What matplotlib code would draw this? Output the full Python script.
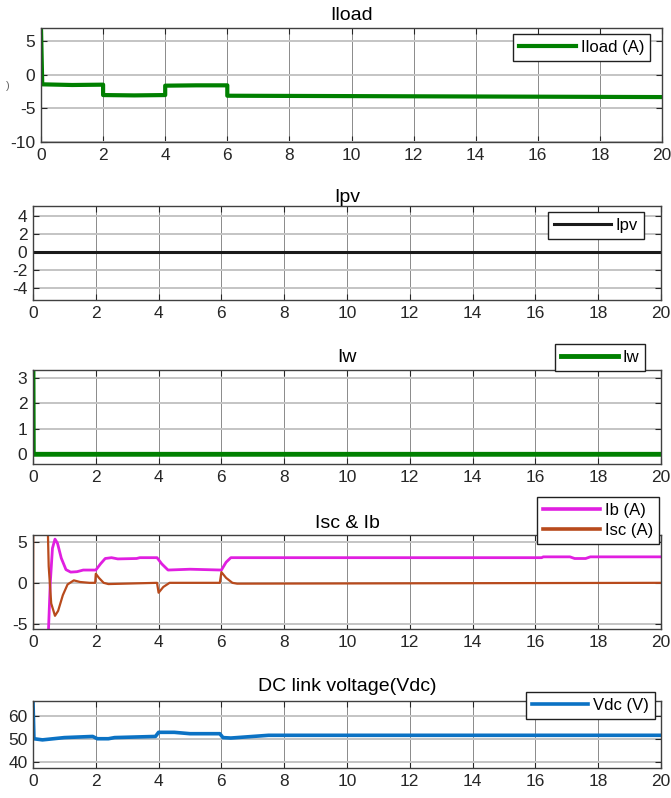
import matplotlib
matplotlib.use("Agg")
import matplotlib.pyplot as plt
from matplotlib import font_manager

# ---------------- data ----------------
xticks = list(range(0, 21, 2))

t_iload = [0, 0.04, 1.0, 2.0, 2.0, 3.0, 4.0, 4.0, 5.0, 6.0, 6.0, 13.0, 20.0]
iload   = [7, -1.4, -1.5, -1.45, -3.0, -3.05, -3.0, -1.6, -1.55, -1.55, -3.1, -3.2, -3.3]

t_ipv = [0, 20]
ipv   = [0, 0]

t_iw = [0, 0.01, 20]
iw   = [3.2, 0, 0]

t_ib = [0.47, 0.55, 0.62, 0.7, 0.78, 0.9, 1.05, 1.2, 1.4, 1.6, 2.0, 2.15, 2.3, 2.5, 2.7,
        3.3, 3.4, 3.95, 4.1, 4.3, 5.0, 6.0, 6.15, 6.3, 16.2, 16.25, 17.1, 17.25, 17.6,
        17.75, 20.0]
ib   = [-8, 0.0, 4.2, 5.3, 4.8, 3.0, 1.6, 1.3, 1.35, 1.55, 1.55, 2.3, 2.95, 3.05, 2.9,
        2.95, 3.05, 3.05, 2.3, 1.55, 1.65, 1.55, 2.5, 3.05, 3.05, 3.15, 3.15, 2.95, 2.95,
        3.15, 3.15]

t_isc = [0, 0.01, 0.45, 0.5, 0.58, 0.7, 0.8, 0.95, 1.1, 1.3, 1.5, 1.8, 1.98, 2.0, 2.1,
         2.25, 2.4, 3.95, 4.0, 4.15, 4.35, 5.95, 6.0, 6.15, 6.35, 6.5, 20.0]
isc   = [-8, 10, 10, 2.0, -2.5, -4.0, -3.4, -1.5, -0.2, 0.3, 0.1, 0.0, 0.0, 1.1, 0.6,
         0.0, -0.15, 0.0, -1.2, -0.5, 0.0, 0.0, 1.3, 0.6, 0.0, -0.1, 0.0]

t_vdc = [0, 0.03, 0.3, 1.0, 1.9, 2.05, 2.4, 2.6, 3.9, 4.0, 4.5, 5.0, 5.95, 6.05, 6.3,
         7.0, 7.5, 20.0]
vdc   = [66.5, 50, 49.5, 50.5, 51, 50, 50, 50.5, 51, 52.8, 52.8, 52.2, 52.2, 50.5, 50.3,
         51, 51.5, 51.5]

# ---------------- fonts ----------------
names = {f.name for f in font_manager.fontManager.ttflist}
fam = [f for f in ["Liberation Sans Narrow", "Liberation Sans", "DejaVu Sans"] if f in names]
plt.rcParams["font.family"] = fam
plt.rcParams["axes.unicode_minus"] = False

W, H = 671, 798
fig = plt.figure(figsize=(W / 100, H / 100), dpi=100)
fig.patch.set_facecolor("white")


def make_ax(l, r, t, b):
    ax = fig.add_axes([l / W, 1 - b / H, (r - l) / W, (b - t) / H])
    ax.set_xlim(0, 20)
    ax.set_xticks(xticks)
    ax.grid(True, axis="x", color="#8a8a8a", lw=0.7)
    ax.grid(True, axis="y", color="#c4c4c4", lw=1.4)
    ax.set_axisbelow(True)
    ax.tick_params(direction="in", top=True, right=True, length=4, width=0.8,
                   labelsize=12.5, colors="#262626", pad=4)
    for s in ax.spines.values():
        s.set_color("#404040")
        s.set_linewidth(1.0)
    return ax


def legend(ax, handles_labels, right, top):
    leg = ax.legend(*handles_labels, loc="upper right",
                    bbox_to_anchor=(right / W, 1 - top / H), bbox_transform=fig.transFigure,
                    fancybox=False, framealpha=1, edgecolor="#202020", fontsize=12,
                    handlelength=3.4, handletextpad=0.3, borderpad=0.35,
                    borderaxespad=0, labelspacing=0.3)
    leg.get_frame().set_linewidth(1.0)
    return leg


# Panel 1: Iload
ax1 = make_ax(41, 662, 28, 142)
l1, = ax1.plot(t_iload, iload, color="#008000", lw=3.0)
ax1.set_ylim(-10, 7)
ax1.set_yticks([-10, -5, 0, 5])
ax1.set_title("Iload", fontsize=14, pad=6)
legend(ax1, ([l1], ["Iload (A)"]), 650, 34)
fig.text(8 / W, 1 - 86 / H, ")", fontsize=8, color="#666666", ha="center", va="center")

# Panel 2: Ipv
ax2 = make_ax(33, 661, 206, 300)
l2, = ax2.plot(t_ipv, ipv, color="#1a1a1a", lw=2.2)
ax2.set_ylim(-5.3, 5.1)
ax2.set_yticks([-4, -2, 0, 2, 4])
ax2.set_title("Ipv", fontsize=14, pad=3)
legend(ax2, ([l2], ["Ipv"]), 644, 212)

# Panel 3: Iw
ax3 = make_ax(33, 661, 370, 464)
l3, = ax3.plot(t_iw, iw, color="#008000", lw=3.5)
ax3.set_ylim(-0.38, 3.3)
ax3.set_yticks([0, 1, 2, 3])
ax3.set_title("Iw", fontsize=14, pad=6)
legend(ax3, ([l3], ["Iw"]), 645, 344)

# Panel 4: Isc & Ib
ax4 = make_ax(33, 661, 535, 629)
l4a, = ax4.plot(t_ib, ib, color="#e01fe0", lw=2.0)
l4b, = ax4.plot(t_isc, isc, color="#b84a1c", lw=1.6)
ax4.set_ylim(-5.6, 5.8)
ax4.set_yticks([-5, 0, 5])
ax4.set_title("Isc & Ib", fontsize=14, pad=5)
lg4 = legend(ax4, ([l4a, l4b], ["Ib (A)", "Isc (A)"]), 659, 497)
for h in lg4.get_lines():
    h.set_linewidth(2.6)

# Panel 5: Vdc
ax5 = make_ax(33, 661, 701, 768)
l5, = ax5.plot(t_vdc, vdc, color="#0b72c4", lw=2.6)
ax5.set_ylim(37.2, 66.5)
ax5.set_yticks([40, 50, 60])
ax5.set_title("DC link voltage(Vdc)", fontsize=14, pad=7)
legend(ax5, ([l5], ["Vdc (V)"]), 655, 692)

fig.savefig("out.png", dpi=100)
